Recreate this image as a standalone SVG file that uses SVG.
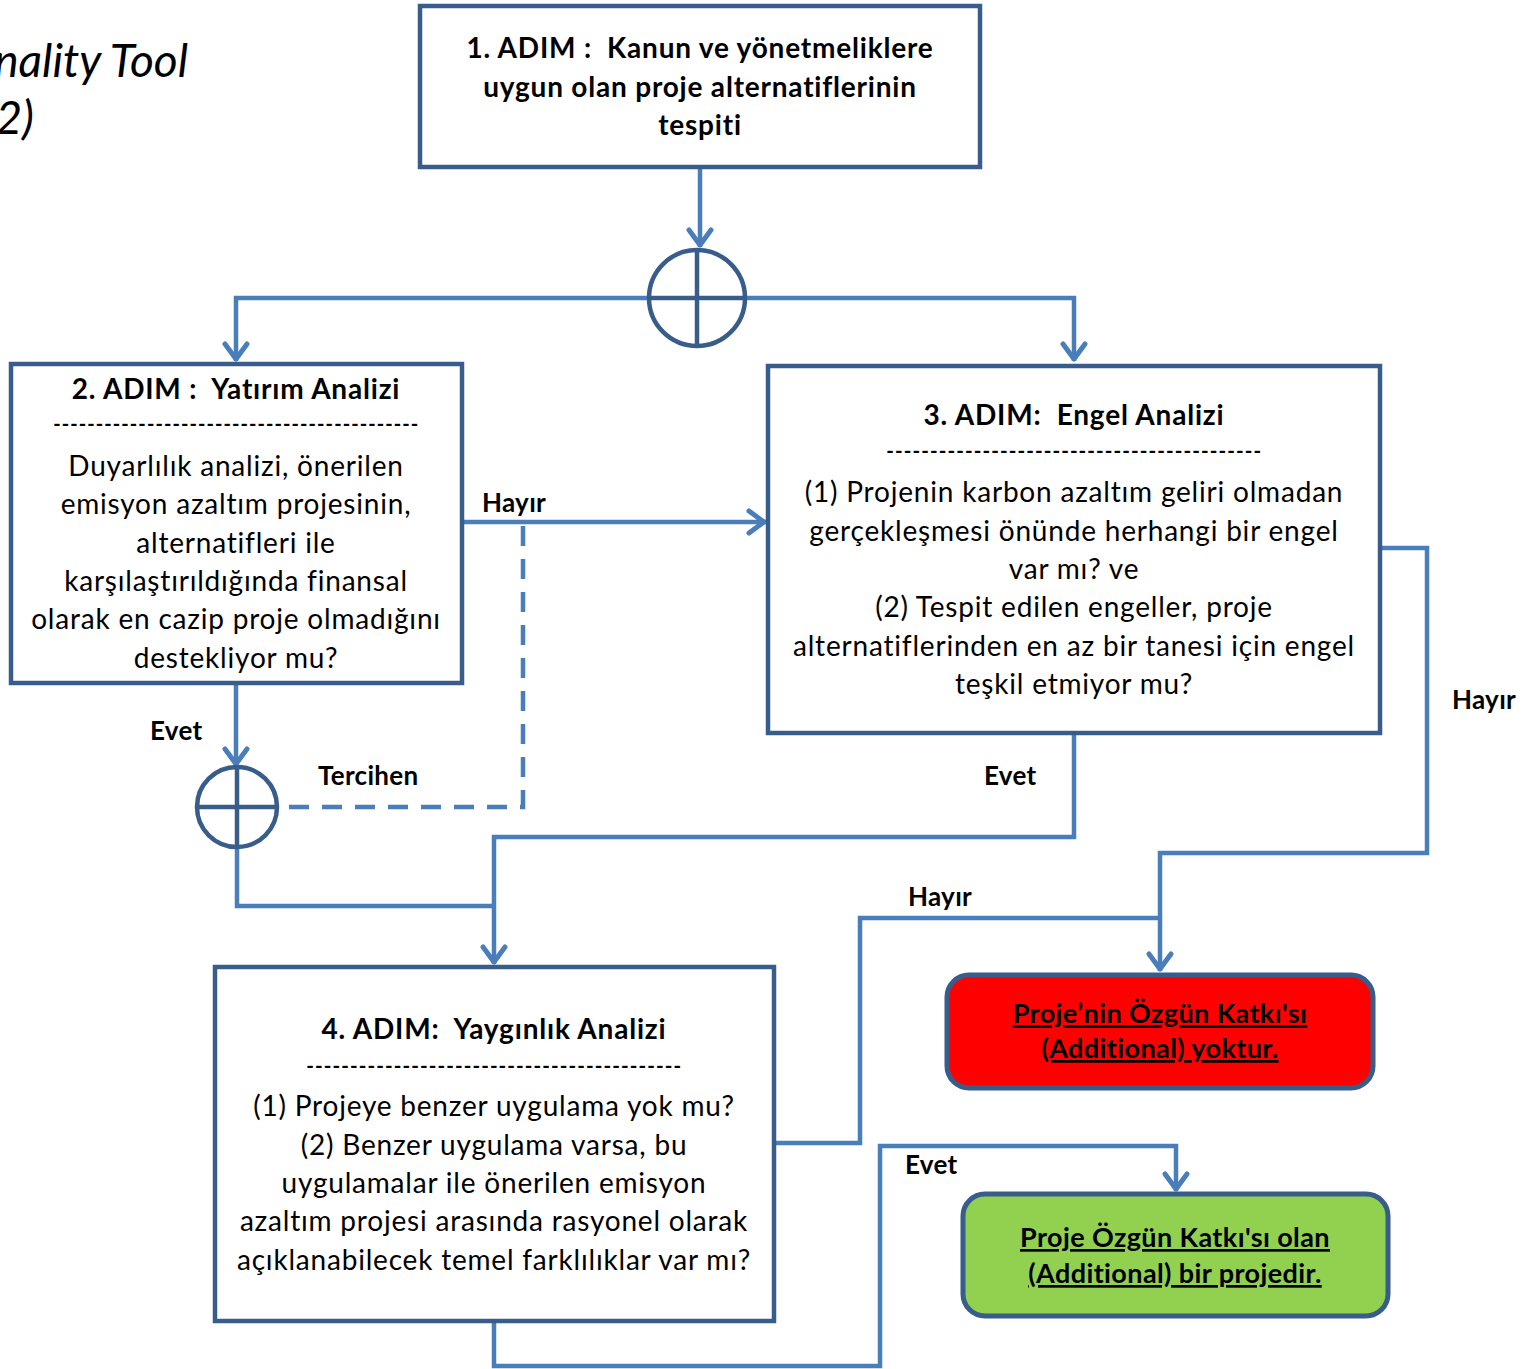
<svg xmlns="http://www.w3.org/2000/svg" width="1538" height="1369" viewBox="0 0 1538 1369">
<defs>
<style>
.box{fill:#fff;stroke:#385D8A;stroke-width:4.5}
.conn{fill:none;stroke:#4A7EBB;stroke-width:4.5}
.dash{stroke-dasharray:20 13}
.sym{fill:none;stroke:#385D8A;stroke-width:4.5}
text{font-family:Lato,"Open Sans","Liberation Sans",sans-serif;fill:#000;white-space:pre}
.t{font-size:28px;letter-spacing:0.8px;text-anchor:middle}
.b{font-size:28px;letter-spacing:0.8px;font-weight:bold;text-anchor:middle}
.lbl{font-size:26px;font-weight:bold;letter-spacing:0.3px}
.res{font-size:27px;font-weight:bold;letter-spacing:0.4px;text-anchor:middle;text-decoration:underline}
.title{font-size:46px;font-style:italic;text-anchor:end}
</style>
<marker id="arr" viewBox="-20 -15 24 30" markerWidth="24" markerHeight="30" markerUnits="userSpaceOnUse" refX="0" refY="0" orient="auto">
<path d="M-17,-11 L-2,0 L-17,11" fill="none" stroke="#4A7EBB" stroke-width="5" stroke-linecap="round" stroke-linejoin="round"/>
</marker>
</defs>
<rect width="1538" height="1369" fill="#fff"/>
<text class="title" x="188" y="77">nality Tool</text>
<text class="title" x="34" y="134">2)</text>

<g id="connectors">
<path class="conn" d="M700,167 V247" marker-end="url(#arr)"/>
<path class="conn" d="M649,298 H236 V361" marker-end="url(#arr)"/>
<path class="conn" d="M745,298 H1074 V361" marker-end="url(#arr)"/>
<path class="conn" d="M462,522 H766" marker-end="url(#arr)"/>
<path class="conn dash" d="M523,526 V807 H277"/>
<path class="conn" d="M236,683 V766" marker-end="url(#arr)"/>
<path class="conn" d="M237,847 V906 H494"/>
<path class="conn" d="M1074,733 V837 H494 V964" marker-end="url(#arr)"/>
<path class="conn" d="M1380,548 H1427 V853 H1160 V971" marker-end="url(#arr)"/>
<path class="conn" d="M774,1143 H860 V918 H1160"/>
<path class="conn" d="M494,1321 V1366 H880 V1146 H1176 V1191" marker-end="url(#arr)"/>
<text class="lbl" x="482" y="512">Hayır</text>
<text class="lbl" x="150" y="740">Evet</text>
<text class="lbl" x="318" y="785">Tercihen</text>
<text class="lbl" x="984" y="785">Evet</text>
<text class="lbl" x="1452" y="709">Hayır</text>
<text class="lbl" x="908" y="906">Hayır</text>
<text class="lbl" x="905" y="1174">Evet</text>
</g>

<g id="junction1">
<circle class="sym" cx="697" cy="298" r="48"/>
<path class="sym" d="M697,250 V346 M649,298 H745"/>
</g>
<g id="junction2">
<circle class="sym" cx="237" cy="807" r="40"/>
<path class="sym" d="M237,767 V847 M197,807 H277"/>
</g>

<g id="step1">
<rect class="box" x="420" y="6" width="560" height="161"/>
<text class="b" x="700" y="58">1. ADIM :  Kanun ve yönetmeliklere</text>
<text class="b" x="700" y="97">uygun olan proje alternatiflerinin</text>
<text class="b" x="700" y="135">tespiti</text>
</g>

<g id="step2">
<rect class="box" x="11" y="364" width="451" height="319"/>
<text class="b" x="236" y="399">2. ADIM :  Yatırım Analizi</text>
<text class="t" x="236" y="434" textLength="366" lengthAdjust="spacingAndGlyphs">-------------------------------------------</text>
<text class="t" x="236" y="476">Duyarlılık analizi, önerilen</text>
<text class="t" x="236" y="514">emisyon azaltım projesinin,</text>
<text class="t" x="236" y="553">alternatifleri ile</text>
<text class="t" x="236" y="591">karşılaştırıldığında finansal</text>
<text class="t" x="236" y="629">olarak en cazip proje olmadığını</text>
<text class="t" x="236" y="668">destekliyor mu?</text>
</g>

<g id="step3">
<rect class="box" x="768" y="366" width="612" height="367"/>
<text class="b" x="1074" y="425">3. ADIM:  Engel Analizi</text>
<text class="t" x="1074" y="461" textLength="376" lengthAdjust="spacingAndGlyphs">-------------------------------------------</text>
<text class="t" x="1074" y="502">(1) Projenin karbon azaltım geliri olmadan</text>
<text class="t" x="1074" y="541">gerçekleşmesi önünde herhangi bir engel</text>
<text class="t" x="1074" y="579">var mı? ve</text>
<text class="t" x="1074" y="617">(2) Tespit edilen engeller, proje</text>
<text class="t" x="1074" y="656">alternatiflerinden en az bir tanesi için engel</text>
<text class="t" x="1074" y="694">teşkil etmiyor mu?</text>
</g>

<g id="step4">
<rect class="box" x="215" y="967" width="559" height="354"/>
<text class="b" x="494" y="1039">4. ADIM:  Yaygınlık Analizi</text>
<text class="t" x="494" y="1076" textLength="376" lengthAdjust="spacingAndGlyphs">-------------------------------------------</text>
<text class="t" x="494" y="1116">(1) Projeye benzer uygulama yok mu?</text>
<text class="t" x="494" y="1155">(2) Benzer uygulama varsa, bu</text>
<text class="t" x="494" y="1193">uygulamalar ile önerilen emisyon</text>
<text class="t" x="494" y="1231">azaltım projesi arasında rasyonel olarak</text>
<text class="t" x="494" y="1270">açıklanabilecek temel farklılıklar var mı?</text>
</g>

<g id="result-no">
<rect x="947" y="975" width="426" height="113" rx="22" fill="#FF0000" stroke="#385D8A" stroke-width="5"/>
<text class="res" x="1160" y="1023">Proje’nin Özgün Katkı'sı</text>
<text class="res" x="1160" y="1058">(Additional) yoktur.</text>
</g>

<g id="result-yes">
<rect x="963" y="1194" width="425" height="122" rx="22" fill="#92D050" stroke="#385D8A" stroke-width="5"/>
<text class="res" x="1175" y="1247">Proje Özgün Katkı'sı olan</text>
<text class="res" x="1175" y="1283">(Additional) bir projedir.</text>
</g>
</svg>
